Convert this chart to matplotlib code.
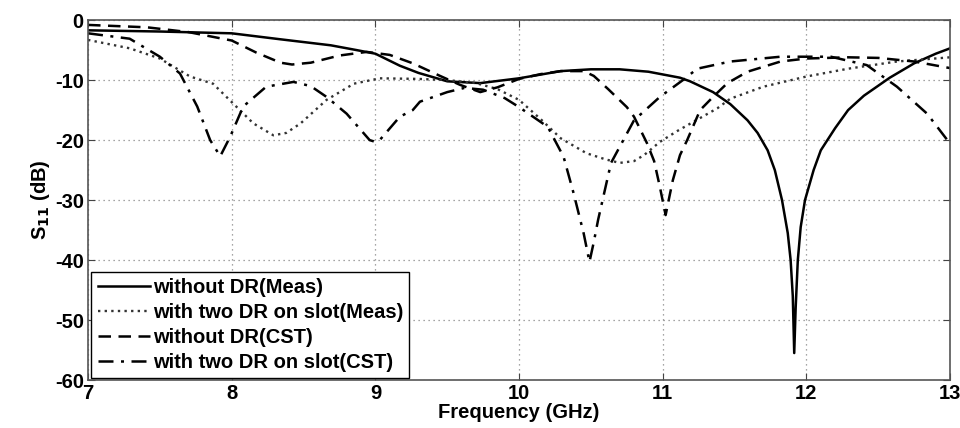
import matplotlib.pyplot as plt

# S11 curves (frequency in GHz, S11 in dB)
meas_nodr_f = [7.0, 7.5, 8.0, 8.34, 8.69, 8.87, 9.0, 9.17, 9.3, 9.5, 9.73, 10.0, 10.29, 10.5,
               10.7, 10.9, 11.12, 11.19, 11.35, 11.47, 11.59, 11.66, 11.73, 11.78, 11.83, 11.87,
               11.89, 11.905, 11.915, 11.925, 11.94, 11.96, 11.99, 12.05, 12.1, 12.2, 12.29,
               12.4, 12.58, 12.75, 12.9, 13.0]
meas_nodr_s = [-1.7, -1.9, -2.2, -3.2, -4.2, -5.0, -5.6, -7.6, -8.8, -10.2, -10.5, -9.7, -8.5, -8.2,
               -8.2, -8.6, -9.6, -10.2, -12.0, -14.0, -16.7, -18.8, -21.7, -25.0, -30.0, -35.5,
               -40.0, -46.0, -55.5, -48.0, -40.0, -34.5, -30.0, -25.0, -21.7, -18.0, -15.0,
               -12.6, -9.6, -7.2, -5.6, -4.7]

meas_dr_f = [7.0, 7.29, 7.5, 7.71, 7.87, 8.01, 8.15, 8.29, 8.38, 8.48, 8.66, 8.85, 9.03, 9.3,
             9.5, 9.7, 9.85, 10.0, 10.15, 10.29, 10.47, 10.6, 10.7, 10.8, 10.87, 10.98, 11.1,
             11.21, 11.38, 11.47, 11.7, 12.0, 12.29, 12.63, 13.0]
meas_dr_s = [-3.3, -4.7, -6.4, -9.4, -10.6, -13.9, -17.2, -19.2, -18.8, -17.2, -13.3, -10.6, -9.7,
             -9.8, -10.0, -10.5, -11.5, -13.3, -16.5, -19.7, -22.2, -23.2, -23.8, -23.5, -22.5,
             -20.3, -18.5, -17.0, -14.7, -13.1, -11.1, -9.4, -8.1, -6.9, -6.2]

cst_nodr_f = [7.0, 7.41, 7.7, 8.0, 8.17, 8.34, 8.42, 8.55, 8.75, 8.94, 9.1, 9.26, 9.45, 9.59,
              9.73, 9.85, 10.0, 10.15, 10.29, 10.45, 10.52, 10.62, 10.75, 10.8, 10.89, 10.94,
              10.98, 11.02, 11.05, 11.07, 11.12, 11.17, 11.26, 11.35, 11.45, 11.59, 11.82, 12.0,
              12.29, 12.5, 12.75, 13.0]
cst_nodr_s = [-0.8, -1.2, -2.0, -3.4, -5.4, -7.1, -7.4, -7.1, -5.9, -5.3, -5.8, -7.2, -9.3, -10.8,
              -12.0, -11.2, -9.8, -9.0, -8.5, -8.5, -9.3, -11.5, -14.5, -16.1, -20.5, -23.5,
              -27.8, -32.5, -29.0, -26.7, -22.5, -20.0, -15.0, -12.8, -10.5, -8.6, -6.9, -6.4,
              -6.2, -6.3, -6.9, -8.0]

cst_dr_f = [7.0, 7.29, 7.5, 7.64, 7.76, 7.85, 7.92, 7.99, 8.08, 8.24, 8.43, 8.55, 8.66, 8.8,
            8.96, 9.0, 9.03, 9.17, 9.26, 9.31, 9.5, 9.62, 9.75, 9.9, 10.0, 10.2, 10.31, 10.38,
            10.45, 10.49, 10.52, 10.55, 10.64, 10.8, 10.98, 11.14, 11.24, 11.47, 11.82, 12.17,
            12.42, 12.63, 12.84, 13.0]
cst_dr_s = [-2.2, -3.1, -6.1, -8.9, -14.4, -20.0, -22.7, -19.4, -14.4, -11.1, -10.3, -11.0, -12.8,
            -15.6, -20.0, -20.3, -20.0, -16.1, -15.0, -13.6, -12.0, -11.3, -11.6, -13.0, -14.5,
            -17.8, -22.8, -28.9, -35.6, -40.3, -37.0, -33.3, -23.8, -16.7, -12.8, -10.0, -8.1,
            -6.9, -6.1, -6.1, -7.5, -11.1, -15.6, -20.6]

labels = ['without DR(Meas)', 'with two DR on slot(Meas)',
          'without DR(CST)', 'with two DR on slot(CST)']

plt.rcParams['font.family'] = ['Liberation Sans', 'DejaVu Sans']
plt.rcParams['font.weight'] = 'bold'
plt.rcParams['axes.labelweight'] = 'bold'
plt.rcParams['axes.unicode_minus'] = False
plt.rcParams['font.size'] = 14.5

fig = plt.figure(figsize=(9.6, 4.28), dpi=100)
ax = fig.add_axes([0.0917, 0.112, 0.898, 0.841])

ax.plot(meas_nodr_f, meas_nodr_s, color='black', lw=1.8, ls='-', label=labels[0])
ax.plot(meas_dr_f, meas_dr_s, color='#333333', lw=1.7, ls=(0, (1, 1.8)), label=labels[1])
ax.plot(cst_nodr_f, cst_nodr_s, color='black', lw=1.8, ls=(0, (5, 3)), label=labels[2])
ax.plot(cst_dr_f, cst_dr_s, color='black', lw=1.8, ls=(0, (6, 3, 1.2, 3)), label=labels[3])

ax.set_xlim(7, 13)
ax.set_ylim(-60, 0)
ax.set_xticks(range(7, 14))
ax.set_yticks(range(-60, 1, 10))
ax.grid(True, color='#888888', ls=(0, (1, 3)), lw=0.9)
ax.tick_params(direction='in', length=5, top=True, right=True, color='#444444', pad=3)
for s in ax.spines.values():
    s.set_color('#555555')
    s.set_linewidth(1.2)

ax.set_xlabel('Frequency (GHz)', labelpad=0)
ax.set_ylabel('S$_{11}$ (dB)', labelpad=2)

leg = ax.legend(loc='lower left', bbox_to_anchor=(0.004, 0.005), borderaxespad=0,
                fancybox=False, framealpha=1, edgecolor='black', handlelength=2.6,
                handletextpad=0.15, labelspacing=0.3, borderpad=0.3)
leg.get_frame().set_linewidth(1.0)

fig.savefig('out.png', dpi=100)
